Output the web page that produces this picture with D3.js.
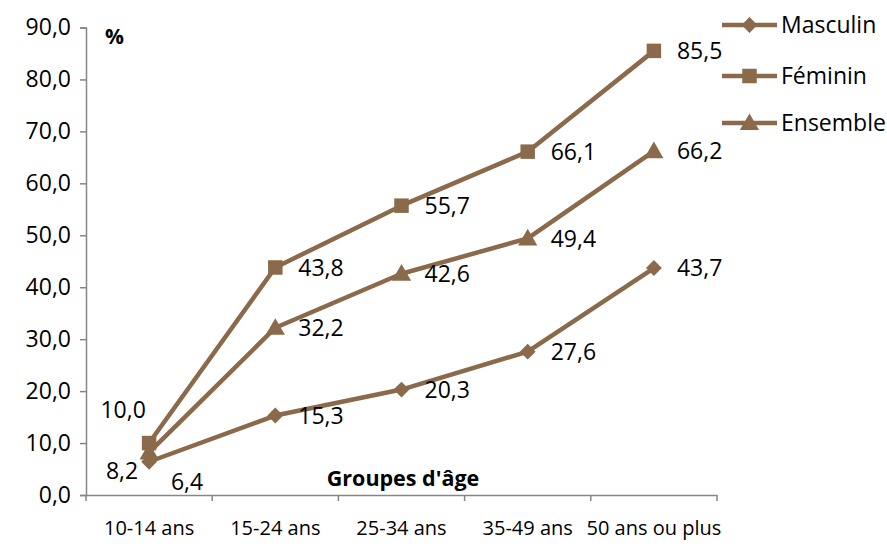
<!DOCTYPE html>
<html>
<head>
<meta charset="utf-8">
<script src="https://cdn.jsdelivr.net/npm/d3@7"></script>
<style>
  html, body { margin: 0; padding: 0; background: #fff; }
  svg { display: block; font-family: "Open Sans", sans-serif; }
</style>
</head>
<body>
<svg id="chart" width="887" height="546"></svg>
<script>
const categories = ["10-14 ans", "15-24 ans", "25-34 ans", "35-49 ans", "50 ans ou plus"];
const masculin = [6.4, 15.3, 20.3, 27.6, 43.7];
const feminin = [10.0, 43.8, 55.7, 66.1, 85.5];
const ensemble = [8.2, 32.2, 42.6, 49.4, 66.2];
const seriesNames = ["Masculin", "Féminin", "Ensemble"];
const yTicks = [0, 10, 20, 30, 40, 50, 60, 70, 80, 90];

const color = "#8a6a4a";
const svg = d3.select("#chart");

const x = d3.scaleBand().domain(categories).range([86, 717]).paddingInner(0).paddingOuter(0);
const y = d3.scaleLinear().domain([0, 90]).range([495, 27.5]);
const fmt = v => d3.format(".1f")(v).replace(".", ",");

// custom diamond (square rotated)
const diamond = {
  draw(ctx, size) {
    const r = Math.sqrt(size) / 2;
    ctx.moveTo(0, -r); ctx.lineTo(r, 0); ctx.lineTo(0, r); ctx.lineTo(-r, 0); ctx.closePath();
  }
};

// Y axis
const yAxis = d3.axisLeft(y).tickValues(yTicks).tickSize(6).tickPadding(9).tickFormat(fmt);
const gy = svg.append("g").attr("transform", `translate(86,0)`).call(yAxis);
gy.select(".domain").attr("stroke", "#868686").attr("stroke-width", 1.5);
gy.selectAll(".tick line").attr("stroke", "#868686").attr("stroke-width", 1.5);
gy.selectAll(".tick text").attr("font-size", 23).attr("fill", "#000").attr("font-family", "Open Sans");

// X axis
const xAxis = d3.axisBottom(x).tickSize(0).tickPadding(38);
const gx = svg.append("g").attr("transform", `translate(0,495)`).call(xAxis);
gx.select(".domain").attr("stroke", "#868686").attr("stroke-width", 1.5);
gx.selectAll(".tick text").attr("font-size", 20).attr("fill", "#000").attr("font-family", "Open Sans").attr("dy", "0.1em");
const bounds = categories.map(c => x(c)).concat([x(categories[categories.length - 1]) + x.bandwidth()]);
gx.selectAll(".bound").data(bounds).enter().append("line")
  .attr("x1", d => d).attr("x2", d => d).attr("y1", 0).attr("y2", 6)
  .attr("stroke", "#868686").attr("stroke-width", 1.5);

// Axis titles
svg.append("text").attr("x", 403).attr("y", 486).attr("text-anchor", "middle")
  .attr("font-size", 21.5).attr("font-weight", "bold").text("Groupes d'âge");
svg.append("text").attr("x", 105).attr("y", 44)
  .attr("font-size", 21).attr("font-weight", "bold").text("%");

const cx = c => x(c) + x.bandwidth() / 2;
const series = [
  { name: seriesNames[0], values: masculin, symbol: diamond, size: 250, dy: 0 },
  { name: seriesNames[1], values: feminin, symbol: d3.symbolSquare, size: 210, dy: 0 },
  { name: seriesNames[2], values: ensemble, symbol: d3.symbolTriangle, size: 160, dy: 1.5 }
];

const line = d3.line().x((d, i) => cx(categories[i])).y(d => y(d));

series.forEach(s => {
  svg.append("path").datum(s.values).attr("d", line)
    .attr("fill", "none").attr("stroke", color).attr("stroke-width", 4.5).attr("stroke-linejoin", "round");
});
series.forEach(s => {
  svg.selectAll(null).data(s.values).enter().append("path")
    .attr("d", d3.symbol().type(s.symbol).size(s.size))
    .attr("transform", (d, i) => `translate(${cx(categories[i])},${y(d) + s.dy})`)
    .attr("fill", color);
});

// Data labels: right of each point; first category placed as in source
const firstOffsets = { "Masculin": [38, 20], "Féminin": [-26, -33], "Ensemble": [-27, 18] };
series.forEach(s => {
  svg.selectAll(null).data(s.values).enter().append("text")
    .attr("x", (d, i) => i === 0 ? cx(categories[i]) + firstOffsets[s.name][0] : cx(categories[i]) + 23)
    .attr("y", (d, i) => i === 0 ? y(d) + firstOffsets[s.name][1] : y(d))
    .attr("dy", "0.36em")
    .attr("text-anchor", (d, i) => i === 0 ? "middle" : "start")
    .attr("font-size", 23).attr("fill", "#000")
    .text(d => fmt(d));
});

// Legend
const legendY = [25, 76, 123];
series.forEach((s, i) => {
  const g = svg.append("g").attr("transform", `translate(722,${legendY[i]})`);
  g.append("line").attr("x1", 0).attr("x2", 55).attr("y1", 0).attr("y2", 0)
    .attr("stroke", color).attr("stroke-width", 4.5);
  g.append("path").attr("d", d3.symbol().type(s.symbol).size(s.size))
    .attr("transform", `translate(27.5,${s.dy})`).attr("fill", color);
  g.append("text").attr("x", 59).attr("y", 0).attr("dy", "0.36em")
    .attr("font-size", 23).attr("fill", "#000").text(s.name);
});
</script>
</body>
</html>
